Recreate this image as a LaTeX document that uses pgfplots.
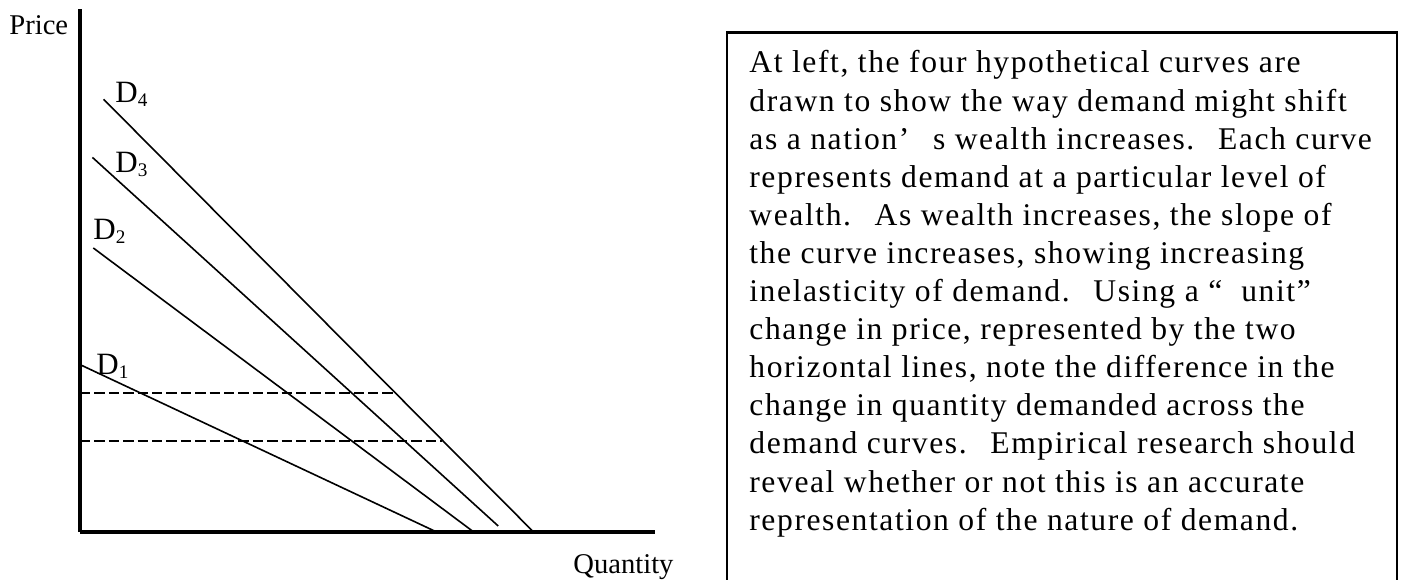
\documentclass[border=0pt]{standalone}
\usepackage{fontspec}
\setmainfont{Liberation Serif}
\newfontfamily\boxfont[LetterSpace=5]{Liberation Serif}
\usepackage{pgfplots}
\pgfplotsset{compat=1.18}
\newcommand{\dsp}{\hspace{0.75em}}
\newcommand{\Dlab}[1]{D\raisebox{-0.12em}{\fontsize{9.6bp}{10bp}\selectfont #1}}
\begin{document}
\begin{tikzpicture}[x=0.5bp,y=0.5bp]
\path[use as bounding box] (0,0) rectangle (1401,580);
\begin{axis}[at={(80,48)}, anchor=south west, scale only axis,
  width=287.5bp, height=261.5bp,
  xmin=80, xmax=655, ymin=48, ymax=571,
  axis x line=bottom, axis y line=left,
  axis line style={-, line width=1.6bp},
  xtick=\empty, ytick=\empty, clip=false]
\addplot[black, line width=0.8bp] coordinates {(103.6,480.7) (533.5,48)};
\addplot[black, line width=0.8bp] coordinates {(92.4,422.6) (498.2,54)};
\addplot[black, line width=0.8bp] coordinates {(93.3,332) (473.7,48)};
\addplot[black, line width=0.8bp] coordinates {(80.4,215.2) (436.6,48)};
\addplot[black, line width=0.75bp, dash pattern=on 5.2bp off 2bp] coordinates {(80,187) (393,187)};
\addplot[black, line width=0.75bp, dash pattern=on 5.2bp off 2bp] coordinates {(80,139) (442,139)};
\end{axis}
\begin{scope}[every node/.style={anchor=base west, inner sep=0pt, font=\fontsize{15.5bp}{18bp}\selectfont}]
\node at (115,477) {\Dlab{4}};
\node at (115,407) {\Dlab{3}};
\node at (93,340) {\Dlab{2}};
\node at (96,205) {\Dlab{1}};
\end{scope}
\begin{scope}[every node/.style={anchor=base west, inner sep=0pt, font=\fontsize{14.3bp}{17bp}\selectfont}]
\node at (9,545) {Price};
\node at (573,6.5) {Quantity};
\end{scope}
\draw[line width=1.4bp, line join=miter] (727,0) -- (727,547.5) -- (1397,547.5) -- (1397,0);
\begin{scope}[every node/.style={anchor=base west, inner sep=0pt, font=\boxfont\fontsize{15.8bp}{18bp}\selectfont}]
\node at (749,507) {At left, the four hypothetical curves are};
\node at (749,468.9) {drawn to show the way demand might shift};
\node at (749,430.8) {as a nation’\hspace{0.75em}s wealth increases.\dsp Each curve};
\node at (749,392.7) {represents demand at a particular level of};
\node at (749,354.6) {wealth.\dsp As wealth increases, the slope of};
\node at (749,316.5) {the curve increases, showing increasing};
\node at (749,278.4) {inelasticity of demand.\dsp Using a “\hspace{0.6em}unit”};
\node at (749,240.3) {change in price, represented by the two};
\node at (749,202.2) {horizontal lines, note the difference in the};
\node at (749,164.1) {change in quantity demanded across the};
\node at (749,126) {demand curves.\dsp Empirical research should};
\node at (749,87.9) {reveal whether or not this is an accurate};
\node at (749,49.8) {representation of the nature of demand.};
\end{scope}
\end{tikzpicture}
\end{document}
